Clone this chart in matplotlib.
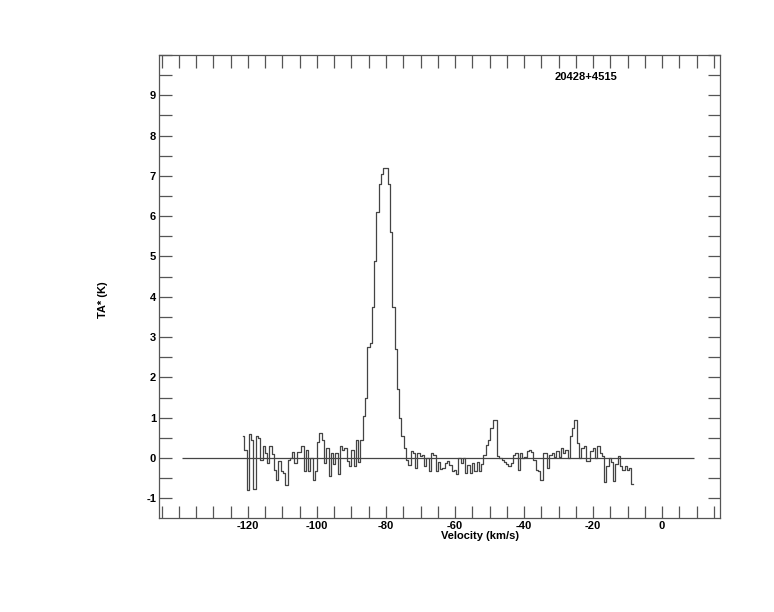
import numpy as np
import matplotlib
matplotlib.use("Agg")
import matplotlib.pyplot as plt
from matplotlib.ticker import MultipleLocator

plt.rcParams['font.family'] = ['Liberation Sans', 'DejaVu Sans']
plt.rcParams['axes.unicode_minus'] = False

source = "20428+4515"
v_start = -121.4   # first channel centre (km/s)
dv = 0.66          # channel width (km/s)
ta = [
    # -121.4 .. -87.0
    0.55, 0.2, -0.8, 0.6, 0.45, -0.78, 0.55, 0.5, -0.05, 0.3,
    0.12, -0.12, 0.3, 0.1, -0.3, -0.54, -0.08, -0.33, -0.37, -0.66,
    -0.04, 0.0, 0.15, -0.12, 0.16, 0.16, 0.3, -0.33, 0.2, -0.33,
    0.0, -0.54, -0.33, 0.4, 0.62, 0.45, -0.12, 0.25, -0.45, 0.12,
    -0.16, 0.12, -0.41, 0.29, 0.2, 0.25, -0.08, -0.2, 0.2, -0.2,
    0.45, -0.1, 0.45,
    # main line
    1.05, 1.5, 2.75, 2.85, 3.75, 4.9, 6.1, 6.8, 7.05, 7.2,
    7.2, 6.8, 5.6, 3.75, 2.7, 1.7, 1.0, 0.55, 0.25, -0.05,
    -0.17, 0.17, 0.12, -0.25, 0.12, 0.05, 0.08, -0.2, 0.0, -0.33,
    0.12, 0.08, -0.33, -0.1, -0.27,
    # -63.3 .. -52.7
    -0.25, -0.12, -0.08, -0.17, -0.33, -0.29, -0.41, 0.0, -0.12, 0.0,
    -0.37, -0.17, -0.37, -0.12, -0.33, -0.1, -0.33,
    # second line
    -0.15, 0.08, 0.33, 0.45, 0.74, 0.95, 0.95, 0.04,
    0.0, -0.05, -0.1, -0.15, -0.2, -0.12, 0.08, 0.12, -0.29, 0.12,
    0.0, 0.02, 0.17, 0.2, 0.15, -0.05, -0.29, -0.33, -0.54,
    0.12, 0.12, -0.25, 0.08, 0.12, 0.03, 0.17, 0.03, 0.25, 0.12,
    0.2, 0.0,
    # third line
    0.55, 0.74, 0.95, 0.37, 0.0, 0.25, 0.29, -0.08, -0.08, 0.17,
    0.25, 0.0, 0.29, 0.12, 0.05, -0.6, -0.2, 0.0, -0.1, -0.58,
    -0.15, 0.05, -0.2, -0.3, -0.2, -0.3, -0.25, -0.65,
]
velocity = v_start + dv * np.arange(len(ta))
baseline_range = [-139, 9.3]

fig = plt.figure(figsize=(7.74, 6.12), dpi=100)
ax = fig.add_axes([0.2054, 0.1536, 0.7248, 0.7565])

ax.plot(velocity, ta, drawstyle='steps-mid', color='#444444', lw=0.9)
ax.hlines(0, baseline_range[0], baseline_range[1], color='#444444', lw=0.9)

ax.set_xlim(-145.8, 16.8)
ax.set_ylim(-1.49, 10.0)

ax.xaxis.set_minor_locator(MultipleLocator(5))
ax.yaxis.set_minor_locator(MultipleLocator(0.5))
ax.set_yticks([-1, 0, 1, 2, 3, 4, 5, 6, 7, 8, 9])
ax.set_xticks([-120, -100, -80, -60, -40, -20, 0])

ax.tick_params(which='both', direction='in', length=9, width=0.9, color='#555555',
               top=True, right=True, labelsize=8, pad=2)
for lab in ax.get_xticklabels() + ax.get_yticklabels():
    lab.set_fontweight('bold')
for s in ax.spines.values():
    s.set_color('#555555')
    s.set_linewidth(0.9)

fig.text(480 / 774, 1 - 536 / 612, "Velocity (km/s)", ha='center', va='center',
         fontsize=8, fontweight='bold')
fig.text(103 / 774, 1 - 300 / 612, "TA* (K)", ha='center', va='center',
         rotation=90, fontsize=8, fontweight='bold')
ax.text(0.761, 0.952, source, transform=ax.transAxes, ha='center', va='center',
        fontsize=8, fontweight='bold')

fig.savefig("out.png", dpi=100)
